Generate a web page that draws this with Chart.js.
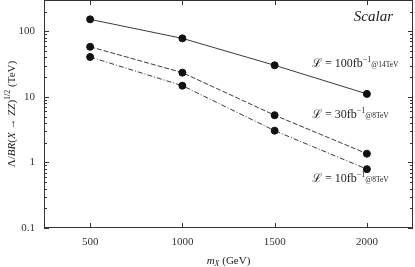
<!DOCTYPE html>
<html>
<head>
<meta charset="utf-8">
<script src="https://cdn.jsdelivr.net/npm/chart.js@4/dist/chart.umd.min.js"></script>
<style>
html,body{margin:0;padding:0;background:#fff;}
#wrap{width:415px;height:267px;position:relative;}
</style>
</head>
<body>
<div id="wrap"><canvas id="c" width="415" height="267"></canvas></div>
<script>
// ---- data ----
const masses = [500, 1000, 1500, 2000];
const lumi100 = [152, 78, 30.3, 11.1];
const lumi30 = [58, 23.4, 5.25, 1.36];
const lumi10 = [40.6, 14.8, 3.05, 0.79];
const xTickValues = [500, 1000, 1500, 2000];
const yDecades = [0.1, 1, 10, 100];
const seriesLabels = [
  {main: 'ℒ = 100fb', sup: '−1', sub: '@14TeV'},
  {main: 'ℒ = 30fb', sup: '−1', sub: '@8TeV'},
  {main: 'ℒ = 10fb', sup: '−1', sub: '@8TeV'}
];
const panelTitle = 'Scalar';

const SERIF = '"Liberation Serif", "DejaVu Serif", serif';
const toPts = (ys) => masses.map((m, i) => ({x: m, y: ys[i]}));

function yTicks() {
  const t = [];
  yDecades.forEach(d => {
    for (let m = 1; m <= 9; m++) {
      const v = m * d;
      if (v <= 300 + 1e-9) t.push({value: v});
    }
  });
  return t;
}
const isDecade = v => yDecades.some(d => Math.abs(v - d) < d * 1e-6);
const noPad = () => ({left: 0, top: 0, right: 0, bottom: 0});

function drawRich(ctx, x, y, parts, align) {
  let w = 0;
  parts.forEach(p => { ctx.font = p.font; p.w = ctx.measureText(p.t).width; w += p.w; });
  let cx = align === 'center' ? x - w / 2 : x;
  parts.forEach(p => {
    ctx.font = p.font;
    ctx.fillText(p.t, cx, y + (p.dy || 0));
    cx += p.w;
  });
}

const decor = {
  id: 'decor',
  afterDraw(chart) {
    const ctx = chart.ctx;
    const a = chart.chartArea;
    const xs = chart.scales.x, ys = chart.scales.y;
    ctx.save();
    // frame
    ctx.strokeStyle = '#333';
    ctx.lineWidth = 1;
    ctx.strokeRect(Math.round(a.left) + 0.5, Math.round(a.top) + 0.5,
                   Math.round(a.right - a.left) - 1, Math.round(a.bottom - a.top) - 1);
    // inward ticks
    ctx.beginPath();
    xs.ticks.forEach(t => {
      const px = Math.round(xs.getPixelForValue(t.value)) + 0.5;
      ctx.moveTo(px, a.bottom); ctx.lineTo(px, a.bottom - 5);
      ctx.moveTo(px, a.top); ctx.lineTo(px, a.top + 5);
    });
    ys.ticks.forEach(t => {
      const py = Math.round(ys.getPixelForValue(t.value)) + 0.5;
      const L = isDecade(t.value) ? 5 : 3;
      ctx.moveTo(a.left, py); ctx.lineTo(a.left + L, py);
      ctx.moveTo(a.right, py); ctx.lineTo(a.right - L, py);
    });
    ctx.stroke();

    ctx.fillStyle = '#222';
    ctx.textBaseline = 'alphabetic';
    // panel title
    ctx.font = 'italic 15px ' + SERIF;
    ctx.textAlign = 'right';
    ctx.fillText(panelTitle, a.right - 20, a.top + 21);
    ctx.textAlign = 'left';
    // series labels
    const ly = [67, 118, 182];
    seriesLabels.forEach((s, i) => {
      drawRich(ctx, 312, ly[i], [
        {t: s.main, font: '12px ' + SERIF},
        {t: s.sup, font: '8px ' + SERIF, dy: -5},
        {t: s.sub, font: '7.5px ' + SERIF, dy: 0}
      ]);
    });
    // x title
    drawRich(ctx, (a.left + a.right) / 2, 264, [
      {t: 'm', font: 'italic 11px ' + SERIF},
      {t: 'X', font: 'italic 8px ' + SERIF, dy: 2},
      {t: ' (GeV)', font: '11px ' + SERIF}
    ], 'center');
    // y title
    ctx.translate(15, (a.top + a.bottom) / 2);
    ctx.rotate(-Math.PI / 2);
    drawRich(ctx, 0, 0, [
      {t: 'Λ/', font: '11px ' + SERIF},
      {t: 'BR', font: 'italic 11px ' + SERIF},
      {t: '(', font: '11px ' + SERIF},
      {t: 'X', font: 'italic 11px ' + SERIF},
      {t: ' → ', font: '11px ' + SERIF},
      {t: 'ZZ', font: 'italic 11px ' + SERIF},
      {t: ')', font: '11px ' + SERIF},
      {t: '1/2', font: '8px ' + SERIF, dy: -5},
      {t: ' (TeV)', font: '11px ' + SERIF}
    ], 'center');
    ctx.restore();
  }
};

const common = {
  borderColor: '#3a3a3a', borderWidth: 1, pointRadius: 3.5,
  pointBackgroundColor: '#111', pointBorderColor: '#111', tension: 0, fill: false
};

new Chart(document.getElementById('c'), {
  type: 'line',
  data: {
    datasets: [
      Object.assign({label: '100', data: toPts(lumi100)}, common),
      Object.assign({label: '30', data: toPts(lumi30), borderDash: [5, 2]}, common),
      Object.assign({label: '10', data: toPts(lumi10), borderDash: [5, 2, 1, 2]}, common)
    ]
  },
  options: {
    responsive: false,
    animation: false,
    devicePixelRatio: 1,
    layout: {autoPadding: false, padding: {top: 0, right: 2, left: 0, bottom: 0}},
    plugins: {legend: {display: false}, tooltip: {enabled: false}},
    scales: {
      x: {
        type: 'linear', min: 250, max: 2250,
        afterBuildTicks: s => { s.ticks = xTickValues.map(v => ({value: v})); },
        afterFit: s => { s.height = 39; s.paddingLeft = 0; s.paddingRight = 0; s.getPadding = noPad; },
        grid: {display: false, drawTicks: false},
        border: {display: false},
        ticks: {autoSkip: false, maxRotation: 0, padding: 8, color: '#333',
                font: {family: SERIF, size: 11}, callback: v => String(v)}
      },
      y: {
        type: 'logarithmic', min: 0.1, max: 300,
        afterBuildTicks: s => { s.ticks = yTicks(); },
        afterFit: s => { s.width = 44; s.paddingTop = 0; s.paddingBottom = 0; s.getPadding = noPad; },
        grid: {display: false, drawTicks: false},
        border: {display: false},
        ticks: {autoSkip: false, padding: 9, color: '#333',
                font: {family: SERIF, size: 11},
                callback: v => isDecade(v) ? String(+v.toPrecision(3)) : ''}
      }
    }
  },
  plugins: [decor]
});
</script>
</body>
</html>
